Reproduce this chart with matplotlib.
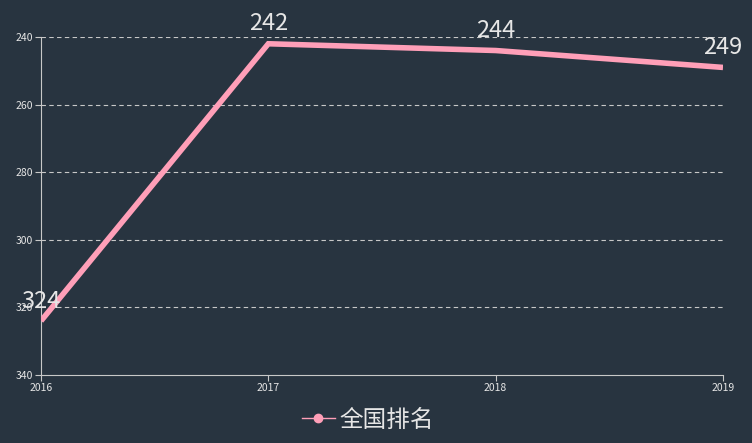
import matplotlib
matplotlib.use("Agg")
import matplotlib.pyplot as plt
from matplotlib.lines import Line2D

plt.rcParams['font.family'] = ['Noto Sans CJK SC', 'DejaVu Sans']

years = ['2016', '2017', '2018', '2019']
ranks = [324, 242, 244, 249]
series_name = '全国排名'

bg = '#283440'
pink = '#ff9fb8'
txt = '#e6e6e6'

fig = plt.figure(figsize=(7.52, 4.43), dpi=100, facecolor=bg)
ax = fig.add_axes([41/752, 1 - 375/443, (723-41)/752, (375-37)/443])
ax.set_facecolor(bg)

x = list(range(len(years)))
ax.plot(x, ranks, color=pink, lw=4, solid_capstyle='butt', solid_joinstyle='miter', zorder=3)
for xi, v in zip(x, ranks):
    ax.annotate(str(v), (xi, v), xytext=(0, 6), textcoords='offset points',
                ha='center', va='bottom', color=txt, fontsize=17, zorder=4)

ax.set_xlim(0, len(years) - 1)
ax.set_ylim(340, 240)
ax.set_yticks([240, 260, 280, 300, 320, 340])
ax.set_xticks(x)
ax.set_xticklabels(years)

for yv in [240, 260, 280, 300, 320]:
    ax.axhline(yv, color='#c8c8c8', lw=0.8, ls=(0, (4, 3)), zorder=1)

for s in ['top', 'right']:
    ax.spines[s].set_visible(False)
for s in ['left', 'bottom']:
    ax.spines[s].set_color('#c8c8c8')
    ax.spines[s].set_linewidth(0.8)
ax.tick_params(colors='#c8c8c8', labelcolor=txt, labelsize=7.5, length=4, width=0.8, pad=2)

handle = Line2D([], [], color=pink, lw=1, marker='o', markersize=6,
                markerfacecolor=pink, markeredgecolor=pink)
fig.legend([handle], [series_name], loc='center', bbox_to_anchor=(368/752, 1 - 420/443),
           frameon=False, fontsize=17, labelcolor=txt, handlelength=1.4,
           handletextpad=0.2)

fig.savefig('out.png', dpi=100, facecolor=bg)
